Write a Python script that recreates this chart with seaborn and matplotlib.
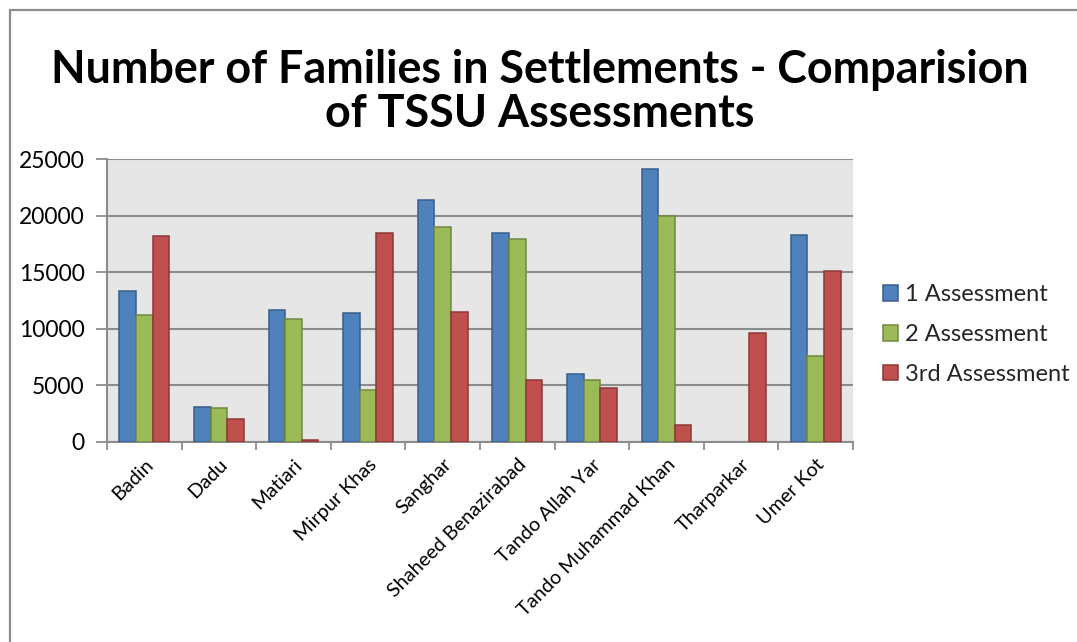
import matplotlib
matplotlib.use("Agg")
import matplotlib.pyplot as plt
from matplotlib.patches import Patch, Rectangle
import seaborn as sns
import pandas as pd

# District-level counts of families in settlements, per TSSU assessment round
districts = ["Badin", "Dadu", "Matiari", "Mirpur Khas", "Sanghar",
             "Shaheed Benazirabad", "Tando Allah Yar", "Tando Muhammad Khan",
             "Tharparkar", "Umer Kot"]
assessment_1 = [13350, 3100, 11700, 11400, 21400, 18500, 6030, 24100, 0, 18300]
assessment_2 = [11200, 3000, 10900, 4550, 19000, 17900, 5440, 19950, 0, 7600]
assessment_3 = [18200, 2050, 150, 18500, 11500, 5470, 4770, 1500, 9650, 15150]
series_names = ["1 Assessment", "2 Assessment", "3rd Assessment"]
y_ticks = [0, 5000, 10000, 15000, 20000, 25000]

face_colors = ["#4F81BD", "#9BBB59", "#C0504D"]
edge_colors = ["#385D8A", "#71893F", "#8C3836"]

df = pd.DataFrame({
    "District": districts * 3,
    "Families": assessment_1 + assessment_2 + assessment_3,
    "Assessment": sum([[s] * len(districts) for s in series_names], []),
})

sns.set_theme(style="white")
plt.rcParams["font.family"] = ["Lato", "DejaVu Sans"]

fig = plt.figure(figsize=(10.77, 6.42), dpi=100)
fig.patch.set_facecolor("white")

# chart-area border (opens past the right and bottom edges)
fig.patches.append(Rectangle((10 / 1077, -0.05), 1.2, 1 - 10 / 642 + 0.05,
                             transform=fig.transFigure, fill=False,
                             edgecolor="#8C8C8C", linewidth=1.6, zorder=0))

ax = fig.add_axes([107 / 1077, 1 - 442 / 642, (853 - 107) / 1077, (442 - 159) / 642])
ax.set_facecolor("#E6E6E6")

sns.barplot(data=df, x="District", y="Families", hue="Assessment",
            palette=face_colors, width=3 / 4.5, ax=ax, legend=False,
            saturation=1, zorder=3)

for cont, ec in zip(ax.containers, edge_colors):
    for bar in cont:
        bar.set_edgecolor(ec)
        # empty bars leave no outline on the baseline
        bar.set_linewidth(1.1 if bar.get_height() > 0 else 0)

ax.set_xlim(-0.5, len(districts) - 0.5)
ax.set_ylim(0, 25000)
ax.set_yticks(y_ticks)
ax.set_yticklabels([str(t) for t in y_ticks], fontsize=16.5, color="black")
ax.yaxis.grid(True, color="#8C8C8C", linewidth=1.5, zorder=1)
ax.set_axisbelow(True)

ax.set_xticks(range(len(districts)))
ax.set_xticklabels(districts, rotation=45, ha="right", rotation_mode="anchor",
                   fontsize=14.3, color="black")
ax.set_xticks([i - 0.5 for i in range(len(districts) + 1)], minor=True)
ax.tick_params(axis="x", which="major", length=0, pad=10)
ax.tick_params(axis="x", which="minor", length=6, width=1.3, color="#8C8C8C",
               bottom=True)
ax.tick_params(axis="y", which="major", length=8, width=1.3, color="#8C8C8C",
               left=True, pad=8)
ax.set_xlabel("")
ax.set_ylabel("")

for side in ["top", "right"]:
    ax.spines[side].set_visible(False)
for side in ["left", "bottom"]:
    ax.spines[side].set_color("#8C8C8C")
    ax.spines[side].set_linewidth(1.5)

fig.text(540 / 1077, 1 - 92 / 642,
         "Number of Families in Settlements - Comparision\nof TSSU Assessments",
         ha="center", va="center", fontsize=32.3, fontweight="bold",
         linespacing=1.05, color="black")

handles = [Patch(facecolor=fc, edgecolor=ec, linewidth=1.1)
           for fc, ec in zip(face_colors, edge_colors)]
fig.legend(handles, series_names, loc="center left",
           bbox_to_anchor=(871 / 1077, 1 - 334.5 / 642), frameon=False,
           fontsize=17, handlelength=0.64, handleheight=0.64,
           handletextpad=0.3, labelspacing=0.8, borderpad=0)

fig.savefig("out.png", dpi=100, facecolor="white")
